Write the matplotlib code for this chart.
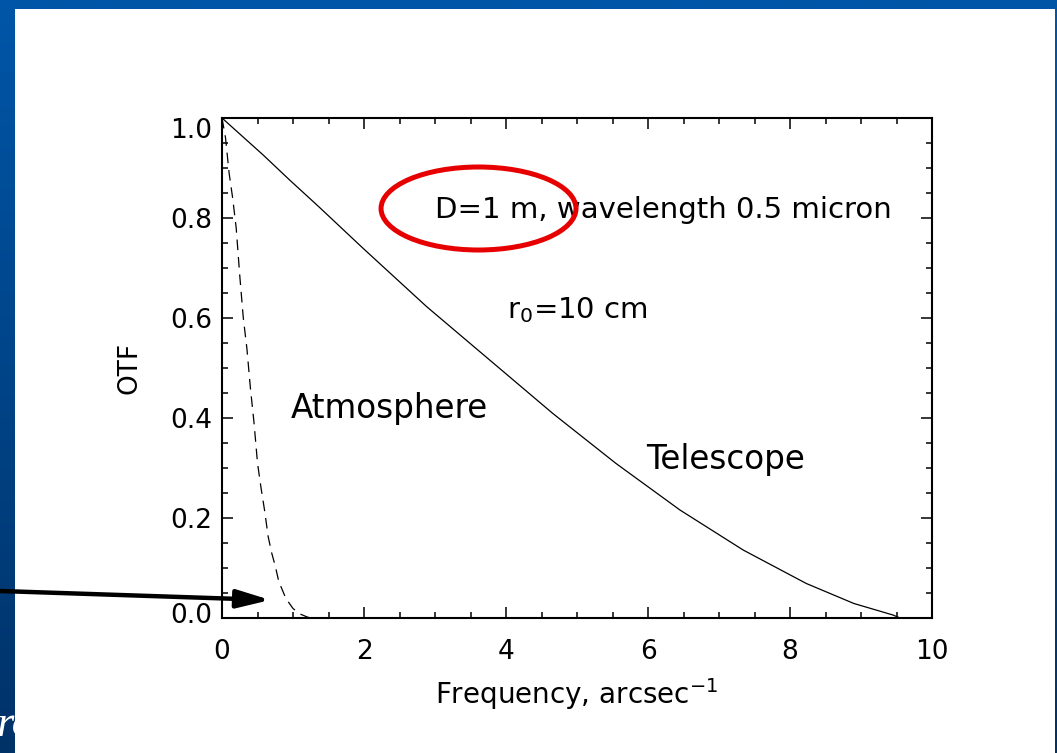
import matplotlib.pyplot as plt
import numpy as np
from matplotlib.patches import Ellipse, Rectangle
from matplotlib.transforms import ScaledTranslation

# Values
tel_freq = [0.0, 0.18, 0.58, 0.96, 1.36, 1.99, 2.88, 3.77, 4.66, 5.55,
            6.45, 7.34, 8.23, 8.90, 9.45, 9.55]
tel_otf = [1.0, 0.977, 0.926, 0.875, 0.823, 0.739, 0.623, 0.516, 0.409, 0.309,
           0.216, 0.136, 0.069, 0.029, 0.006, 0.0]

atm_freq = [0.0, 0.05, 0.10, 0.15, 0.20, 0.25, 0.30, 0.35, 0.40, 0.45, 0.50,
            0.55, 0.60, 0.65, 0.70, 0.75, 0.80, 0.90, 1.00, 1.10, 1.20, 1.25]
atm_otf = [1.0, 0.96, 0.89, 0.84, 0.78, 0.685, 0.60, 0.54, 0.46, 0.392, 0.31,
           0.26, 0.215, 0.163, 0.13, 0.104, 0.073, 0.039, 0.019, 0.008, 0.002, 0.0]

x_ticks = [0, 2, 4, 6, 8, 10]
y_ticks = [0.0, 0.2, 0.4, 0.6, 0.8, 1.0]

fig = plt.figure(figsize=(10.57, 7.53), dpi=100)

# slide background: blue gradient frame with white panel
bg = fig.add_axes([0, 0, 1, 1])
bg.set_axis_off()
top_col = np.array([0, 86, 168]) / 255
bot_col = np.array([0, 50, 104]) / 255
t = np.linspace(0, 1, 256)[:, None]
grad = (top_col * (1 - t) + bot_col * t)[:, None, :]
bg.imshow(grad, aspect='auto', extent=[0, 1, 0, 1], zorder=0)
bg.text(-0.004, 0.022, 'ro', color='white', fontsize=32, family='Liberation Serif',
        style='italic', transform=bg.transAxes, zorder=1)
bg.add_patch(Rectangle((15 / 1057, 0), 1040 / 1057, 1 - 9 / 753,
                       transform=bg.transAxes, facecolor='white', edgecolor='none', zorder=2))
bg.set_xlim(0, 1)
bg.set_ylim(0, 1)

ax = fig.add_axes([222 / 1057, 135 / 753, 710 / 1057, 500 / 753])
ax.plot(tel_freq, tel_otf, color='black', lw=0.9)
ax.plot(atm_freq, atm_otf, color='black', lw=0.9, linestyle=(0, (8.5, 5.5)))

ax.set_xlim(0, 10)
ax.set_ylim(0, 1.0)
ax.set_xticks(x_ticks)
ax.set_yticks(y_ticks)
ax.set_xticks(np.arange(0, 10.01, 0.5), minor=True)
ax.set_yticks(np.arange(0, 1.001, 0.05), minor=True)
ax.set_xticklabels([str(v) for v in x_ticks])
ax.set_yticklabels([f'{v:.1f}' for v in y_ticks])
for s in ax.spines.values():
    s.set_linewidth(1.5)
ax.tick_params(which='both', direction='in', top=True, right=True, width=1.1)
ax.tick_params(which='major', length=8, labelsize=19)
ax.tick_params(which='minor', length=4.3)
ax.tick_params(axis='x', which='major', pad=15)
ax.tick_params(axis='y', which='major', pad=7)

# IDL keeps end labels inside the axis range
labs = ax.get_yticklabels()
labs[-1].set_transform(labs[-1].get_transform() + ScaledTranslation(0, -0.10, fig.dpi_scale_trans))
labs[0].set_transform(labs[0].get_transform() + ScaledTranslation(0, 0.05, fig.dpi_scale_trans))

ax.set_xlabel('Frequency, arcsec$^{-1}$', fontsize=20, labelpad=8)
ax.set_ylabel('OTF', fontsize=19, labelpad=20)

ax.text(3.0, 0.80, 'D=1 m, wavelength 0.5 micron', fontsize=21, va='baseline')
ax.text(4.02, 0.60, 'r$_0$=10 cm', fontsize=21, va='baseline')
ax.text(0.97, 0.40, 'Atmosphere', fontsize=23.5, va='baseline')
ax.text(5.97, 0.298, 'Telescope', fontsize=23.5, va='baseline')

ax.add_patch(Ellipse((3.613, 0.819), 2.746, 0.166, facecolor='none',
                     edgecolor='#E60000', lw=3.6, clip_on=False, zorder=5))

ax.annotate('', xy=(0.68, 0.036), xycoords='data',
            xytext=(0.0, 162 / 753), textcoords='figure fraction',
            arrowprops=dict(arrowstyle='-|>,head_length=20,head_width=5.5',
                            mutation_scale=1, lw=3.2, color='black',
                            shrinkA=0, shrinkB=0),
            annotation_clip=False)

fig.savefig('out.png', dpi=100)
